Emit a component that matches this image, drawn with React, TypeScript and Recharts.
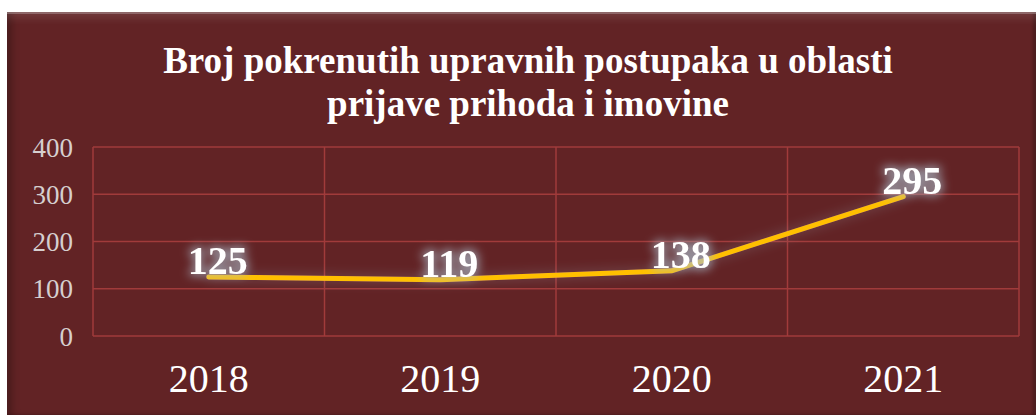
import { LineChart, Line, XAxis, YAxis, CartesianGrid, LabelList } from "recharts";

const years = ["2018", "2019", "2020", "2021"];
const cases = [125, 119, 138, 295];
const yTicks = [0, 100, 200, 300, 400];

const titleLines = ["Broj pokrenutih upravnih postupaka u oblasti", "prijave prihoda i imovine"];

const chartData = years.map((year, i) => ({ year, cases: cases[i] }));

const BG = "#622325";
const GRID = "#a13b3b";

// vertical grid lines sit on the category borders, not on the tick centres
const bandEdges = ({ xAxis, offset }: any) => {
  const s = xAxis && xAxis.scale;
  if (typeof s === "function" && typeof s.bandwidth === "function") {
    const bw = s.bandwidth();
    return [...years.map((y) => s(y)), s(years[years.length - 1]) + bw];
  }
  if (!offset) return [];
  const step = offset.width / years.length;
  return [...years.map((_, i) => offset.left + i * step), offset.left + offset.width];
};

const GlowLabel = (props: any) => {
  const { x, y, value } = props;
  return (
    <text
      x={x + 9}
      y={y - 3}
      textAnchor="middle"
      fill="#ffffff"
      fontFamily="'Liberation Serif', serif"
      fontWeight="bold"
      fontSize={40}
      filter="url(#labelGlow)"
    >
      {value}
    </text>
  );
};

export default function App() {
  return (
    <div
      style={{
        position: "absolute",
        left: 7,
        top: 12,
        width: 1029,
        height: 403,
        background: BG,
        boxShadow:
          "inset 0 2px 0 rgba(255,255,255,0.25), inset 0 10px 8px -4px rgba(255,255,255,0.12), inset 8px 0 8px -4px rgba(0,0,0,0.3), inset -3px 0 3px rgba(0,0,0,0.25)",
        overflow: "hidden",
      }}
    >
      <div
        style={{
          position: "absolute",
          left: 0,
          top: 27,
          width: 1042,
          textAlign: "center",
          color: "#ffffff",
          fontFamily: "'Liberation Serif', serif",
          fontWeight: "bold",
          fontSize: 37,
          lineHeight: "43px",
        }}
      >
        {titleLines.map((line) => (
          <div key={line}>{line}</div>
        ))}
      </div>
      <LineChart
        width={1029}
        height={403}
        data={chartData}
        margin={{ top: 135, right: 17, bottom: 0, left: 0 }}
      >
        <defs>
          <filter id="labelGlow" x="-30%" y="-40%" width="160%" height="180%">
            <feMorphology in="SourceAlpha" operator="dilate" radius="2" result="fat" />
            <feGaussianBlur in="fat" stdDeviation="5" result="blur" />
            <feFlood floodColor="#a9bccb" floodOpacity="0.7" />
            <feComposite in2="blur" operator="in" result="glow" />
            <feMerge>
              <feMergeNode in="glow" />
              <feMergeNode in="SourceGraphic" />
            </feMerge>
          </filter>
          <filter id="lineShadow" x="-10%" y="-50%" width="120%" height="200%">
            <feGaussianBlur in="SourceAlpha" stdDeviation="6" result="blur" />
            <feFlood floodColor="#9fb3c2" floodOpacity="0.35" />
            <feComposite in2="blur" operator="in" result="shadow" />
            <feMerge>
              <feMergeNode in="shadow" />
              <feMergeNode in="SourceGraphic" />
            </feMerge>
          </filter>
        </defs>
        <CartesianGrid stroke={GRID} strokeWidth={1.5} verticalCoordinatesGenerator={bandEdges} />
        <XAxis
          dataKey="year"
          scale="band"
          axisLine={false}
          tickLine={false}
          height={79}
          interval={0}
          tick={{ fill: "#ffffff", fontSize: 40, fontFamily: "'Liberation Serif', serif" }}
          dy={20}
        />
        <YAxis
          domain={[0, 400]}
          ticks={yTicks}
          axisLine={false}
          tickLine={false}
          width={86}
          tick={{ fill: "#d6cfcf", fontSize: 27, fontFamily: "'Liberation Serif', serif" }}
          dx={-12}
        />
        <Line
          dataKey="cases"
          stroke="#ffc000"
          strokeWidth={5}
          strokeLinecap="round"
          dot={false}
          activeDot={false}
          type="linear"
          filter="url(#lineShadow)"
          isAnimationActive={false}
        >
          <LabelList dataKey="cases" content={<GlowLabel />} />
        </Line>
      </LineChart>
    </div>
  );
}
